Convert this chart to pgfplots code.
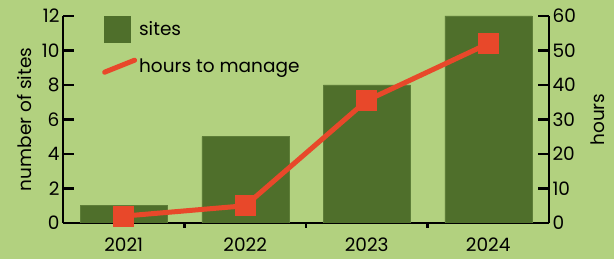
\documentclass[border=0pt]{standalone}
\usepackage{pgfplots}
\pgfplotsset{compat=1.18}
\usepackage{fontspec}
\setmainfont{Poppins}
\definecolor{bg}{RGB}{178,209,127}
\definecolor{barc}{RGB}{79,111,43}
\definecolor{lnc}{RGB}{232,72,42}
\begin{document}
\begin{tikzpicture}[x=1pt,y=1pt]
\fill[bg] (0,0) rectangle (614,259);
\useasboundingbox (0,0) rectangle (614,259);
\pgfplotsset{
  common/.style={
    at={(63pt,36pt)}, anchor=south west, scale only axis,
    width=486pt, height=207pt,
    xmin=-0.5, xmax=3.5,
    axis line style={line width=2.5pt, black},
    tick style={line width=2.5pt, black},
    major tick length=11pt, minor tick length=5pt,
    /pgf/number format/assume math mode=true,
    tick label style={font=\fontsize{18.5}{22}\selectfont},
    label style={font=\fontsize{18.5}{22}\selectfont},
  }
}
\begin{axis}[common,
  ymin=0, ymax=12,
  axis y line*=left, axis x line*=bottom,
  xtick={0,1,2,3}, xticklabels={2021,2022,2023,2024},
  xticklabel style={inner ysep=2pt, yshift=-2pt},
  minor xtick={0.5,1.5,2.5},
  major x tick style={draw=none},
  ytick={0,2,...,12},
  ylabel={number of sites},
  ylabel style={at={(axis description cs:-0.08,0.5)}, anchor=center},
  ybar, bar width=87pt,
]
\addplot[fill=barc, draw=barc!85!bg, line width=0.5pt] coordinates {(0,1) (1,5) (2,8) (3,12)};
\end{axis}
\begin{axis}[common,
  ymin=0, ymax=60,
  axis y line*=right, axis x line=none,
  ytick={0,10,...,60},
  ylabel={hours},
  ylabel style={at={(axis description cs:1.10,0.5)}, anchor=center},
  legend style={at={(axis description cs:0.08,1)}, anchor=north west, draw=none, fill=none,
    font=\fontsize{18.5}{22}\selectfont, row sep=14pt, inner sep=0pt},
  legend cell align=left,
]
\addlegendimage{legend image code/.code={\fill[barc] (0pt,-13pt) rectangle (26pt,13pt);}}
\addlegendentry{sites}
\addplot[lnc, line width=5pt, mark=square*, mark size=8pt, mark options={solid},
  legend image code/.code={\draw[lnc, line width=5pt, line cap=round] (0pt,-6pt) -- (30pt,6pt);}]
  coordinates {(0,2) (1,5) (2,35.5) (3,52)};
\addlegendentry{hours to manage}
\end{axis}
\end{tikzpicture}
\end{document}
